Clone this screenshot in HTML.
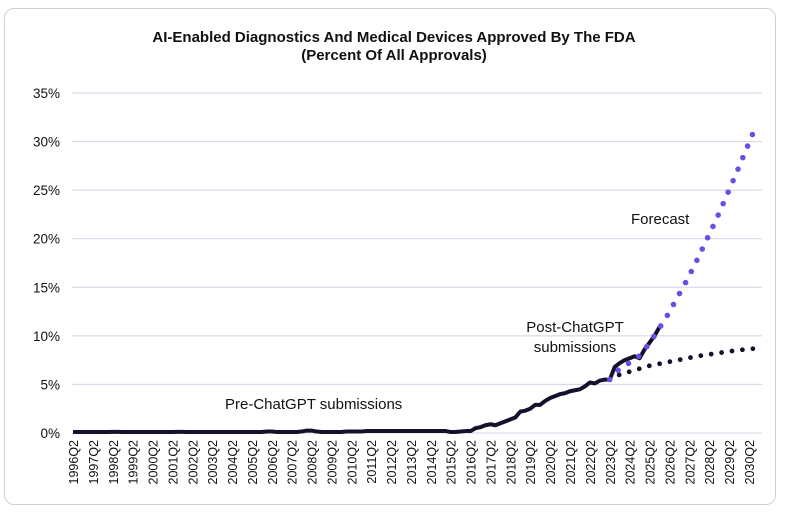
<!DOCTYPE html>
<html><head><meta charset="utf-8"><style>
body{margin:0;background:#fff;width:786px;height:516px;overflow:hidden;font-family:"Liberation Sans",sans-serif}
#card{position:absolute;left:4px;top:8px;width:772px;height:497px;border:1px solid #d0d0d8;border-radius:10px;box-sizing:border-box}
</style></head><body>
<div id="card"></div>
<svg id="chart" width="786" height="516" style="position:absolute;left:0;top:0"></svg>
<script>
const yTicks=[0,5,10,15,20,25,30,35];
const xLabels=[];for(let y=1996;y<=2030;y++)xLabels.push(y+"Q2");
const preValues=[0.1,0.1,0.1,0.1,0.1,0.1,0.1,0.1,0.12,0.12,0.1,0.1,0.1,0.1,0.1,0.1,0.1,0.1,0.1,0.1,0.1,0.12,0.12,0.1,0.1,0.1,0.1,0.1,0.1,0.1,0.1,0.1,0.1,0.1,0.1,0.1,0.1,0.1,0.1,0.15,0.15,0.1,0.1,0.1,0.1,0.1,0.15,0.25,0.25,0.15,0.1,0.1,0.1,0.1,0.1,0.15,0.15,0.15,0.15,0.2,0.2,0.2,0.2,0.2,0.2,0.2,0.2,0.2,0.2,0.2,0.2,0.2,0.2,0.2,0.2,0.2];
const postValues=[0.1,0.1,0.15,0.2,0.2,0.5,0.6,0.8,0.9,0.8,1.0,1.2,1.4,1.6,2.2,2.3,2.5,2.9,2.9,3.3,3.6,3.8,4.0,4.1,4.3,4.4,4.5,4.8,5.2,5.1,5.4,5.5,5.5,6.8,7.2,7.5,7.7,7.9,7.7,8.6,9.3,10.0,10.9];
const forecastHigh=[5.5,6.6,7.2,7.9,9.1,10.6,12.2,14.0,15.8,17.8,19.9,22.0,24.3,26.6,29.0,31.4];
const forecastLow=[5.5,6.0,6.3,6.6,6.9,7.1,7.3,7.5,7.7,7.9,8.05,8.2,8.35,8.5,8.6,8.7];
const forecastStart=108;
const actual=preValues.concat(postValues);
const svg=document.getElementById('chart');const NS='http://www.w3.org/2000/svg';
const X=i=>73+i*4.97, Y=v=>433-v*(340/35);
function mk(t,a,p){const e=document.createElementNS(NS,t);for(const k in a)e.setAttribute(k,a[k]);(p||svg).appendChild(e);return e;}
function txt(s,x,y,sz,anch,w){const e=mk('text',{x:x,y:y,'font-size':sz,'text-anchor':anch||'middle',fill:'#111','font-weight':w||'normal','font-family':'Liberation Sans, sans-serif'});e.textContent=s;return e;}
let t=txt('AI-Enabled Diagnostics And Medical Devices Approved By The FDA',394,42,15,'middle','bold');


t=txt('(Percent Of All Approvals)',394,60,15,'middle','bold');


yTicks.forEach(v=>{
 const l=mk('line',{x1:72,x2:762,y1:Y(v),y2:Y(v),stroke:'#d4d2e2','stroke-width':1});
 
 
 const tt=txt(v+'%',60,Y(v)+5,13.5,'end');
 
 
});
xLabels.forEach((s,k)=>{
 const x=X(k*4)+5;
 const e=mk('text',{x:0,y:0,'font-size':12.5,'text-anchor':'end',fill:'#111','font-family':'Liberation Sans, sans-serif',transform:`translate(${x},440) rotate(-90)`});
 e.textContent=s;
 
 
});
const pts=actual.map((v,i)=>X(i)+','+Y(v)).join(' ');
let p=mk('polyline',{points:pts,fill:'none',stroke:'#14122b','stroke-width':4,'stroke-linejoin':'round'});


[[forecastLow,'#14122b','forecast-low-line',4.8,'0 10.5'],[forecastHigh,'#6b4ee6','forecast-high-line',5.6,'0 12.5']].forEach(([arr,c,n,w,da])=>{
 const pp=arr.map((v,k)=>X(forecastStart+k*1.95)+','+Y(v)).join(' ');
 const d=mk('polyline',{points:pp,fill:'none',stroke:c,'stroke-width':w,'stroke-linecap':'round','stroke-dasharray':da});
 
 
});
t=txt('Forecast',631,224,15,'start');


t=txt('Post-ChatGPT',575,332,15);


t=txt('submissions',575,352,15);


t=txt('Pre-ChatGPT submissions',225,409,15,'start');


</script>
</body></html>
